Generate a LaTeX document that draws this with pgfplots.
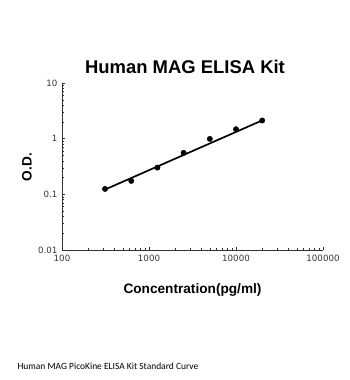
\documentclass[border=0pt]{standalone}
\usepackage{pgfplots}
\pgfplotsset{compat=1.18}
\usepackage{fontspec}
\setmainfont{Liberation Sans}
\newfontfamily\calfont{Carlito}
\newfontfamily\tickfont{DejaVu Sans}
\begin{document}
\begin{tikzpicture}
\path[use as bounding box] (0,0) rectangle (350bp,380bp);
\begin{axis}[
  at={(62bp,130bp)}, anchor=south west,
  scale only axis, width=261bp, height=167bp,
  xmode=log, ymode=log,
  xmin=100, xmax=100000, ymin=0.01, ymax=10,
  axis x line*=bottom, axis y line*=left,
  axis line style={black!80, line width=0.6pt},
  tick style={black!80, line width=0.5pt},
  tick align=inside,
  major tick length=3.5bp, minor tick length=2.5bp,
  xtick={100,1000,10000,100000}, xticklabels={100,1000,10000,100000},
  ytick={0.01,0.1,1,10}, yticklabels={0.01,0.1,1,10},
  tick label style={font=\tickfont\fontsize{8.7}{10}\selectfont, text=black!80},
  xticklabel style={yshift=-2bp},
  yticklabel style={xshift=-1bp},
  clip=false,
]
\addplot[black, line width=1.7pt, no marks] coordinates {(312.5,0.122) (20000,2.13)};
\addplot[only marks, mark=*, mark size=2.7pt, black] coordinates {
  (312.5,0.125) (625,0.174) (1250,0.302) (2500,0.556) (5000,0.99) (10000,1.48) (20000,2.12)
};
\end{axis}
\node[font=\fontsize{18.5}{20}\selectfont\bfseries] at (185bp,313bp) {Human MAG ELISA Kit};
\node[font=\fontsize{13.7}{15}\selectfont\bfseries] at (192.5bp,90bp) {Concentration(pg/ml)};
\node[font=\fontsize{13.7}{15}\selectfont\bfseries, rotate=90] at (27bp,213bp) {O.D.};
\node[font=\calfont\fontsize{9.5}{11}\selectfont, anchor=west] at (14bp,13.5bp) {Human MAG PicoKine ELISA Kit Standard Curve};
\end{tikzpicture}
\end{document}
